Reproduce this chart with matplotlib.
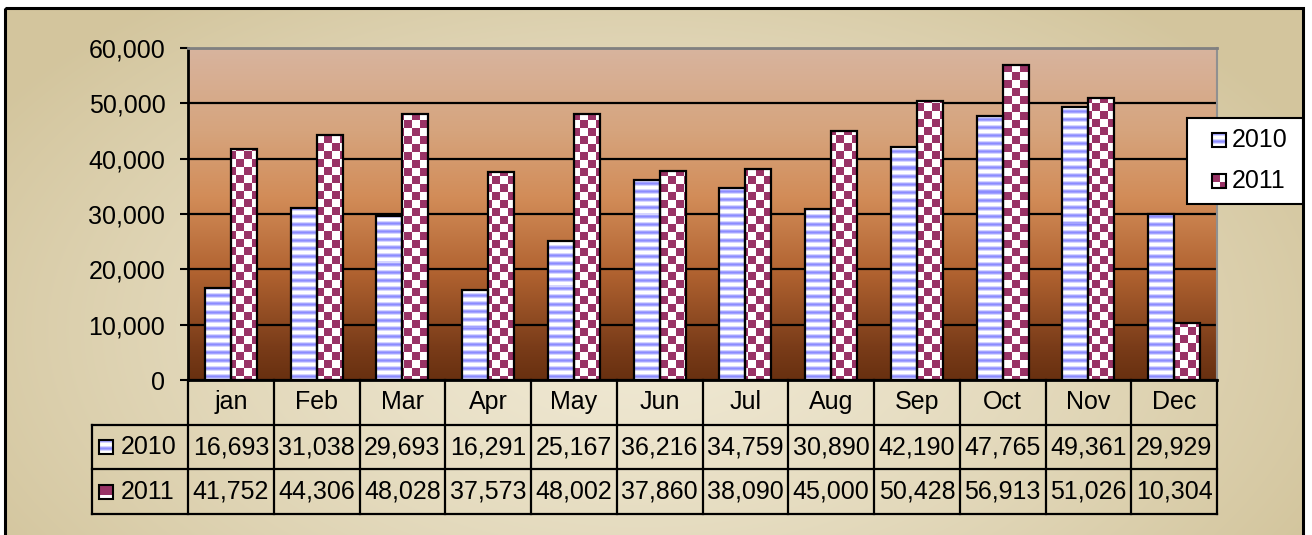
''' Monthly sales 2010 vs 2011 - bar chart with data table '''
import numpy as np
import matplotlib.pyplot as plt
from matplotlib.patches import Rectangle
from matplotlib.ticker import FuncFormatter

plt.rcParams['font.family'] = ['Liberation Sans', 'DejaVu Sans']

# data
months = ['jan', 'Feb', 'Mar', 'Apr', 'May', 'Jun', 'Jul', 'Aug', 'Sep', 'Oct', 'Nov', 'Dec']
sales_2010 = [16693, 31038, 29693, 16291, 25167, 36216, 34759, 30890, 42190, 47765, 49361, 29929]
sales_2011 = [41752, 44306, 48028, 37573, 48002, 37860, 38090, 45000, 50428, 56913, 51026, 10304]
series = ['2010', '2011']
y_ticks = [0, 10000, 20000, 30000, 40000, 50000, 60000]

W, H = 1312, 535
FS = 18
BLUE = np.array([140, 140, 255]) / 255
MAROON = np.array([153, 51, 102]) / 255
WHITE = np.ones(3)

fig = plt.figure(figsize=(W / 100, H / 100), dpi=100, facecolor='white')


def px_axes(x0, y0, x1, y1, z):
    a = fig.add_axes([x0 / W, 1 - y1 / H, (x1 - x0) / W, (y1 - y0) / H])
    a.set_zorder(z)
    return a


def stripes(h, w, period=8):
    prof = np.array([1.0, 0.8, 0.35, 0, 0, 0, 0.35, 0.8])[np.arange(h) % period]
    col = WHITE + (BLUE - WHITE) * prof[:, None]
    return np.repeat(col[:, None, :], w, axis=1)


def checker(h, w, sq=8):
    yy, xx = np.mgrid[0:h, 0:w]
    m = ((yy // sq + xx // sq) % 2 == 0)[..., None]
    return np.where(m, MAROON, WHITE)


# background panel (pixel coordinates)
bg = px_axes(0, 0, W, H, 0)
bg.axis('off')
yy, xx = np.mgrid[8:H, 5:1303]
r = np.clip(np.sqrt(((xx - 640) / 760) ** 2 + ((yy - 330) / 430) ** 2), 0, 1)
light = np.array([240, 233, 212]) / 255
dark = np.array([211, 197, 157]) / 255
bg.imshow(light + (dark - light) * r[..., None] ** 1.3, extent=(5, 1303, H, 8),
          aspect='auto', interpolation='bilinear')
bg.set_xlim(0, W)
bg.set_ylim(H, 0)

# plot area
ax = px_axes(188, 48, 1217, 380, 2)
ax.set_facecolor('none')
stops = [0.0, 0.25, 0.45, 0.68, 0.9, 1.0]
cols = np.array([[216, 180, 158], [214, 164, 125], [210, 140, 88],
                 [176, 98, 48], [122, 60, 25], [104, 48, 16]]) / 255
t = np.linspace(0, 1, 332)
grad = np.stack([np.interp(t, stops, cols[:, k]) for k in range(3)], axis=1)
ax.imshow(np.repeat(grad[:, None, :], 4, axis=1), extent=(-0.5, 11.5, 0, 60000),
          aspect='auto', zorder=0, interpolation='bilinear')

x = np.arange(len(months))
bw = 0.303
pats = [stripes(332, 1029), checker(332, 1029)]
for k, vals in enumerate([sales_2010, sales_2011]):
    bars = ax.bar(x + (k - 0.5) * bw, vals, bw, facecolor='none',
                  edgecolor='black', linewidth=1.6, zorder=3)
    for b in bars:
        im = ax.imshow(pats[k], extent=(-0.5, 11.5, 0, 60000), aspect='auto',
                       interpolation='nearest', zorder=2.5)
        im.set_clip_path(b)

ax.set_xlim(-0.5, 11.5)
ax.set_ylim(0, 60000)
ax.set_yticks(y_ticks)
ax.yaxis.set_major_formatter(FuncFormatter(lambda v, p: f'{v:,.0f}'))
ax.set_xticks([])
ax.tick_params(axis='y', length=5.8, width=1.5, pad=10.5, labelsize=FS)
ax.yaxis.grid(True, color='black', linewidth=1.6)
ax.set_axisbelow(True)
for side, c, lw in [('left', 'black', 2), ('bottom', 'black', 2),
                    ('top', '#808080', 2), ('right', '#909090', 1.5)]:
    ax.spines[side].set_color(c)
    ax.spines[side].set_linewidth(lw)

# data table
cw = 85.75
lab_w = 96 / cw
tax = px_axes(92, 380, 1217, 514, 2)
tax.axis('off')
x0 = -0.5 - lab_w
for i in range(len(months) + 1):
    tax.plot([i - 0.5, i - 0.5], [0, 3], color='black', lw=1.6, clip_on=False)
tax.plot([x0, x0], [1, 3], color='black', lw=1.6, clip_on=False)
for rw in [1, 2, 3]:
    tax.plot([x0, 11.5], [rw, rw], color='black', lw=1.6, clip_on=False)

for i, m in enumerate(months):
    tax.text(i, 0.5, m, ha='center', va='center', fontsize=FS)
    tax.text(i, 1.5, f'{sales_2010[i]:,}', ha='center', va='center', fontsize=FS)
    tax.text(i, 2.5, f'{sales_2011[i]:,}', ha='center', va='center', fontsize=FS)

mk_w = 14 / cw
mk_h = 14 / 44.7
mk_x = x0 + 7 / cw
mini = [stripes(14, 14), np.where((np.arange(14) < 10)[:, None, None],
                                  np.broadcast_to(MAROON, (14, 14, 3)), WHITE)]
for k, name in enumerate(series):
    yc = 1.5 + k
    tax.imshow(mini[k], extent=(mk_x, mk_x + mk_w, yc + mk_h / 2, yc - mk_h / 2),
               aspect='auto', interpolation='nearest', zorder=3)
    tax.add_patch(Rectangle((mk_x, yc - mk_h / 2), mk_w, mk_h, fill=False,
                            ec='black', lw=1.5, zorder=4))
    tax.text(x0 + 29 / cw, yc, name, ha='left', va='center', fontsize=FS)
tax.set_xlim(x0, 11.5)
tax.set_ylim(3, 0)

# legend and outer border (pixel coordinates)
ov = px_axes(0, 0, W, H, 5)
ov.axis('off')
ov.set_facecolor('none')
ov.add_patch(Rectangle((1187, 118), 116, 86, facecolor='white', edgecolor='black', lw=1.5))
leg_mini = [stripes(14, 14), checker(14, 14, sq=8)]
for k, name in enumerate(series):
    yc = 140 + k * 41
    ov.imshow(leg_mini[k], extent=(1212, 1226, yc + 7, yc - 7), aspect='auto',
              interpolation='nearest', zorder=3)
    ov.add_patch(Rectangle((1212, yc - 7), 14, 14, fill=False, ec='black', lw=1.5, zorder=4))
    ov.text(1232, yc, name, ha='left', va='center', fontsize=FS)
ov.add_patch(Rectangle((5, 8), 1298, 545, fill=False, ec='black', lw=2.2, clip_on=False))
ov.set_xlim(0, W)
ov.set_ylim(H, 0)

fig.savefig('out.png', dpi=100)
